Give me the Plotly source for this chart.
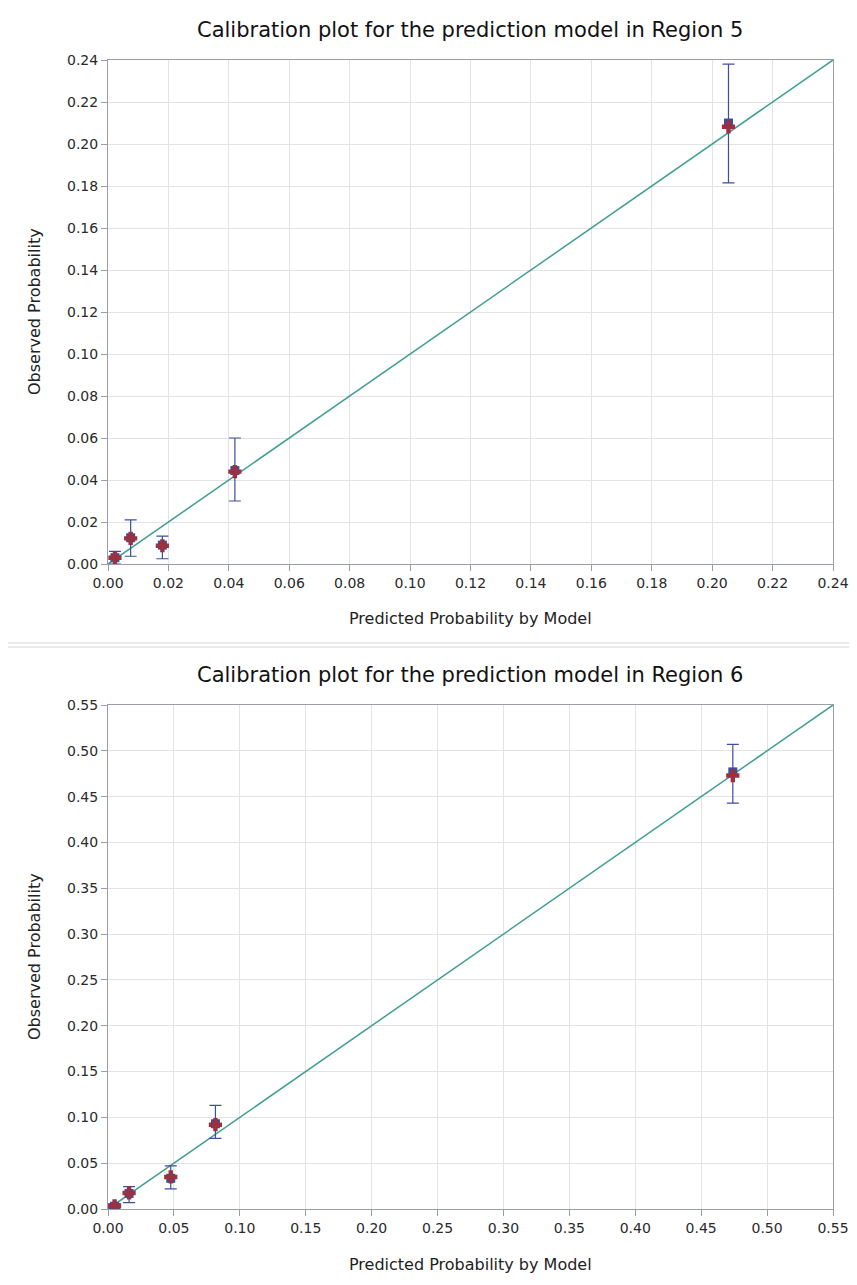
import plotly.graph_objects as go

# Region 5
r5_pred = [0.0023, 0.0075, 0.018, 0.042, 0.2054]
r5_obs = [0.0030, 0.0125, 0.0090, 0.0445, 0.2100]
r5_mean = [0.0030, 0.0122, 0.0087, 0.0440, 0.2082]
r5_upper = [0.0060, 0.0210, 0.0133, 0.0600, 0.2380]
r5_lower = [0.0000, 0.0037, 0.0025, 0.0300, 0.1815]
r5_ticks = [0.00, 0.02, 0.04, 0.06, 0.08, 0.10, 0.12, 0.14, 0.16, 0.18, 0.20, 0.22, 0.24]

# Region 6
r6_pred = [0.005, 0.016, 0.0476, 0.0815, 0.474]
r6_obs = [0.0030, 0.0170, 0.0335, 0.0930, 0.4770]
r6_mean = [0.0035, 0.0175, 0.0350, 0.0920, 0.4730]
r6_upper = [0.0060, 0.0245, 0.0470, 0.1130, 0.5070]
r6_lower = [0.0005, 0.0070, 0.0220, 0.0770, 0.4430]
r6_ticks = [0.00, 0.05, 0.10, 0.15, 0.20, 0.25, 0.30, 0.35, 0.40, 0.45, 0.50, 0.55]

titles = ["Calibration plot for the prediction model in Region 5",
          "Calibration plot for the prediction model in Region 6"]
xtitle = "Predicted Probability by Model"
ytitle = "Observed Probability"

OFF = 8  # page body margin
W, H = 857 - 2 * OFF, 1285 - 2 * OFF
FONT = "DejaVu Sans, sans-serif"
TEAL = "#3f9e92"
BLUE = "#3d4f9c"
RED = "#9b3041"
GRID = "#e3e3e3"
AX = "#9a9ea6"


def px(x):
    return (x - OFF) / W


def py(y):
    return 1 - (y - OFF) / H


fig = go.Figure()

panels = [
    dict(pred=r5_pred, obs=r5_obs, mean=r5_mean, up=r5_upper, lo=r5_lower, ticks=r5_ticks,
         xa="x", ya="y", px=(108, 833), py=(60, 564)),
    dict(pred=r6_pred, obs=r6_obs, mean=r6_mean, up=r6_upper, lo=r6_lower, ticks=r6_ticks,
         xa="x2", ya="y2", px=(108, 833), py=(705, 1209)),
]

layout = dict(width=W, height=H, margin=dict(l=0, r=0, t=0, b=0, autoexpand=False),
              paper_bgcolor="white", plot_bgcolor="white", showlegend=False,
              font=dict(family=FONT, color="#222"))
annotations = []
shapes = []

for i, p in enumerate(panels):
    mx = p["ticks"][-1]
    # diagonal reference line
    fig.add_trace(go.Scatter(x=[p["ticks"][0], mx], y=[p["ticks"][0], mx], mode="lines",
                             line=dict(color=TEAL, width=1.5), xaxis=p["xa"], yaxis=p["ya"],
                             hoverinfo="skip"))
    # error bars + observed squares
    fig.add_trace(go.Scatter(
        x=p["pred"], y=p["obs"], mode="markers",
        marker=dict(symbol="square", size=9, color=BLUE),
        error_y=dict(type="data", symmetric=False,
                     array=[u - o for u, o in zip(p["up"], p["obs"])],
                     arrayminus=[o - l for o, l in zip(p["obs"], p["lo"])],
                     color=BLUE, thickness=1.2, width=6),
        xaxis=p["xa"], yaxis=p["ya"]))
    # red plus markers
    fig.add_trace(go.Scatter(
        x=p["pred"], y=p["mean"], mode="markers",
        marker=dict(symbol="cross", size=11, color=RED, line=dict(width=0)),
        xaxis=p["xa"], yaxis=p["ya"]))

    x0, x1 = p["px"]
    y0, y1 = p["py"]
    xdom = [px(x0), px(x1)]
    ydom = [py(y1), py(y0)]
    axcommon = dict(showline=True, linecolor=AX, linewidth=1, mirror=True,
                    showgrid=True, gridcolor=GRID, gridwidth=1, zeroline=False,
                    ticks="outside", ticklen=6, tickcolor=AX, automargin=False,
                    tickfont=dict(family=FONT, size=14, color="#2a2a2a"),
                    tickformat=".2f", tickvals=p["ticks"],
                    range=[p["ticks"][0], mx])
    xkey = "xaxis" if p["xa"] == "x" else "xaxis2"
    ykey = "yaxis" if p["ya"] == "y" else "yaxis2"
    layout[xkey] = dict(domain=xdom, anchor=p["ya"], **axcommon)
    layout[ykey] = dict(domain=ydom, anchor=p["xa"], **axcommon)

    # title
    annotations.append(dict(text=titles[i], xref="paper", yref="paper",
                            x=px(470), y=py(y0 - 30), xanchor="center", yanchor="middle",
                            showarrow=False, font=dict(family=FONT, size=21, color="#111")))
    annotations.append(dict(text=xtitle, xref="paper", yref="paper",
                            x=px(470), y=py(y1 + 55), xanchor="center", yanchor="middle",
                            showarrow=False, font=dict(family=FONT, size=16, color="#222")))
    annotations.append(dict(text=ytitle, xref="paper", yref="paper", textangle=-90,
                            x=px(34), y=py((y0 + y1) / 2), xanchor="center", yanchor="middle",
                            showarrow=False, font=dict(family=FONT, size=16, color="#222")))

# panel borders
shapes.append(dict(type="rect", xref="paper", yref="paper", x0=px(7), x1=1.02,
                   y0=py(643), y1=py(3), line=dict(color="#d4d4d4", width=1)))
shapes.append(dict(type="rect", xref="paper", yref="paper", x0=px(5), x1=1.02,
                   y0=py(1284), y1=py(647), line=dict(color="#d4d4d4", width=1)))

layout["annotations"] = annotations
layout["shapes"] = shapes
fig.update_layout(**layout)
fig.write_html("out.html")
